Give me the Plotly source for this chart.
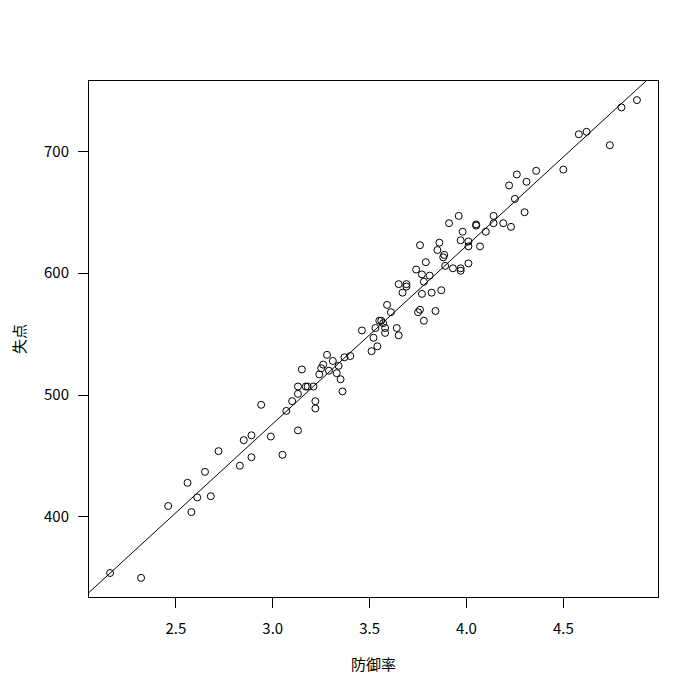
import numpy as np
import plotly.graph_objects as go

# 防御率 (ERA) and 失点 (runs allowed)
era = [2.16, 2.32, 2.46, 2.58, 2.61, 2.68, 2.56, 2.65, 2.72, 2.83,
       2.89, 2.85, 2.89, 2.99, 3.05, 3.13, 2.94, 3.07, 3.10, 3.13,
       3.13, 3.17, 3.18, 3.21, 3.22, 3.22, 3.15, 3.24, 3.25, 3.26,
       3.29, 3.28, 3.31, 3.34, 3.33, 3.35, 3.36, 3.37, 3.40, 3.46,
       3.52, 3.54, 3.51, 3.53, 3.55, 3.56, 3.57, 3.58, 3.58, 3.59,
       3.61, 3.64, 3.65, 3.65, 3.69, 3.69, 3.67, 3.74, 3.79, 3.77,
       3.81, 3.78, 3.77, 3.82, 3.87, 3.76, 3.75, 3.84, 3.78, 3.85,
       3.885, 3.88, 3.89, 3.93, 3.76, 3.86, 3.97, 3.97, 4.01, 3.91,
       3.96, 3.98, 3.97, 4.01, 4.01, 4.07, 4.05, 4.05, 4.10, 4.14,
       4.14, 4.19, 4.23, 4.25, 4.30, 4.22, 4.26, 4.31, 4.36, 4.50,
       4.58, 4.62, 4.74, 4.80, 4.88]
runs = [354, 350, 409, 404, 416, 417, 428, 437, 454, 442,
        449, 463, 467, 466, 451, 471, 492, 487, 495, 501,
        507, 507, 507, 507, 495, 489, 521, 517, 522, 525,
        520, 533, 528, 524, 518, 513, 503, 531, 532, 553,
        547, 540, 536, 555, 561, 561, 559, 555, 551, 574,
        568, 555, 549, 591, 591, 589, 584, 603, 609, 599,
        598, 593, 583, 584, 586, 570, 568, 569, 561, 619,
        615, 613, 606, 604, 623, 625, 604, 602, 608, 641,
        647, 634, 627, 626, 622, 622, 640, 639, 634, 647,
        641, 641, 638, 661, 650, 672, 681, 675, 684, 685,
        714, 716, 705, 736, 742]

x_ticks = [2.5, 3.0, 3.5, 4.0, 4.5]
x_tick_labels = ["2.5", "3.0", "3.5", "4.0", "4.5"]
y_ticks = [400, 500, 600, 700]
y_tick_labels = ["400", "500", "600", "700"]

x = np.array(era)
y = np.array(runs)

# R-style 4% axis padding
def pad(a):
    lo, hi = a.min(), a.max()
    d = (hi - lo) * 0.04
    return [lo - d, hi + d]

xr = pad(x)
yr = pad(y)

# least squares fit (abline(lm(...)))
slope, intercept = np.polyfit(x, y, 1)
lx = np.array([xr[0] - 1, xr[1] + 1])
ly = intercept + slope * lx

FONT = "Noto Sans CJK JP, Noto Sans, sans-serif"

fig = go.Figure()
fig.add_trace(go.Scatter(
    x=x, y=y, mode="markers",
    marker=dict(symbol="circle-open", size=7, color="black",
                line=dict(color="black", width=1)),
    showlegend=False, hoverinfo="skip"))
fig.add_trace(go.Scatter(
    x=lx, y=ly, mode="lines",
    line=dict(color="black", width=1),
    showlegend=False, hoverinfo="skip"))

fig.update_layout(
    width=691, height=691,
    margin=dict(l=74, r=41, t=73, b=102),
    paper_bgcolor="white", plot_bgcolor="white",
    font=dict(family=FONT, size=15, color="black"),
    xaxis=dict(range=xr, tickvals=x_ticks, ticktext=x_tick_labels,
               showgrid=False, zeroline=False,
               showline=True, mirror=True, linecolor="black", linewidth=1,
               ticks="outside", ticklen=10, tickcolor="black", tickwidth=1,
               ticklabelstandoff=8,
               title=dict(text="防御率", standoff=22, font=dict(size=15))),
    yaxis=dict(range=yr, tickvals=y_ticks, ticktext=y_tick_labels,
               showgrid=False, zeroline=False,
               showline=True, mirror=True, linecolor="black", linewidth=1,
               ticks="outside", ticklen=10, tickcolor="black", tickwidth=1,
               ticklabelstandoff=6,
               title=dict(text="失点", standoff=14, font=dict(size=15))),
)

fig.write_html("out.html")
